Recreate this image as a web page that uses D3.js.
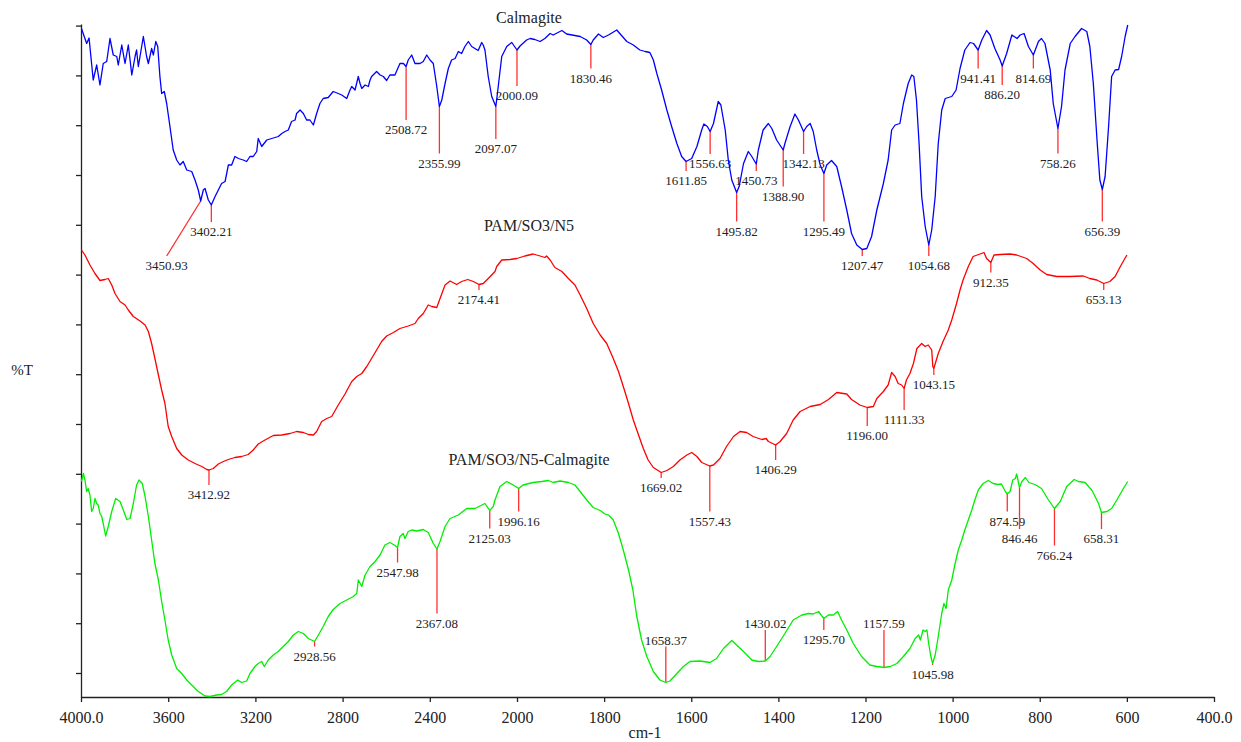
<!DOCTYPE html>
<html>
<head>
<meta charset="utf-8">
<script src="https://cdn.jsdelivr.net/npm/d3@7"></script>
<style>
  body { margin: 0; background: #fff; }
  svg text { font-family: "Liberation Serif", "Times New Roman", serif !important; fill: #222; }
</style>
</head>
<body>
<div id="chart"></div>
<script>
// spectra: [wavenumber cm-1, %T (stacked, arbitrary offset)]
const calmagite = [
  [3998,128.9],[3974,125.9],[3963,127],[3944,118.6],[3928,121.6],[3913,117.6],[3898,121.9],[3882,122.3],[3867,126.9],[3852,123.6],
  [3836,123.3],[3829,121.6],[3813,125.6],[3798,121.9],[3783,125.6],[3767,119.6],[3752,123.3],[3745,124.6],[3737,121.3],[3714,127.3],
  [3699,123.3],[3691,121.9],[3676,124.9],[3668,123.6],[3657,126.3],[3648,125.3],[3638,119.3],[3630,115.9],[3618,116.3],[3607,113.9],
  [3592,109.3],[3577,104.6],[3561,102.6],[3546,101.6],[3531,102.3],[3515,100.6],[3492,100.3],[3477,98.6],[3462,96.6],[3450.93,94.4],
  [3439,96.6],[3431,96.9],[3416,94.6],[3402.21,93.6],[3385,95.3],[3370,96.6],[3355,97.9],[3339,98.3],[3324,101.6],[3309,101.6],
  [3294,103.3],[3278,102.9],[3256,102.6],[3240,102.3],[3225,103.3],[3210,103.3],[3194,104.3],[3187,106.9],[3171,105.3],[3148,106.6],
  [3125,106.9],[3095,107.3],[3079,107.9],[3064,108.3],[3049,108.6],[3034,110.3],[3018,110.6],[3011,111.9],[2995,112.6],[2980,111.9],
  [2965,110.6],[2950,110.6],[2934,109.6],[2919,111.9],[2904,113.9],[2889,114.9],[2866,115.1],[2843,116.3],[2820,115.9],[2804,115.6],
  [2781,114.9],[2766,116.6],[2758,117.3],[2743,116.6],[2728,119.3],[2720,117.9],[2712,116.9],[2697,117.6],[2682,117.3],[2674,118.6],
  [2667,119.3],[2644,120.3],[2628,119.6],[2613,119.3],[2598,118.5],[2583,119.6],[2560,119.6],[2537,121.9],[2521,121.9],[2508.72,121.3],
  [2499,122.6],[2483,123.6],[2468,121.9],[2445,121.9],[2430,122.3],[2414,123.6],[2399,122.6],[2384,121.9],[2368,117.3],[2355.99,113.3],
  [2345,114.6],[2330,117.9],[2315,120.9],[2300,122.6],[2284,122.9],[2269,124.3],[2254,123.9],[2239,125.3],[2223,126.3],[2208,125.3],
  [2178,124.5],[2162,126.1],[2155,125.6],[2147,124.6],[2132,119.3],[2116,115.3],[2097.07,113.3],[2086,117.3],[2070,123.3],[2047,125.3],
  [2024,126.1],[2000.09,124.6],[1993,125.4],[1978,126.6],[1970,126.9],[1959,126.7],[1947,126.3],[1936,126.9],[1924,127.9],[1917,127.6],
  [1897,128.5],[1886,127.8],[1855,127.3],[1840,126.6],[1830.46,125.7],[1825,126.6],[1813,127.8],[1802,127.1],[1790,127.6],[1771,128.6],
  [1764,127.9],[1748,126.3],[1733,125.6],[1718,124.6],[1706,124.3],[1695,124.1],[1687,122.6],[1679,119.9],[1668,116.6],[1656,112.6],
  [1645,109.3],[1633,105.9],[1622,103.3],[1611.85,102.3],[1599,102.9],[1587,105.3],[1576,108.6],[1571,109.8],[1563,109.3],[1556.63,108.3],
  [1549,109.9],[1538,114.3],[1532,113.6],[1522,108.6],[1515,102.6],[1507,98.6],[1495.82,96.1],[1490,97.3],[1480,101.9],[1469,104.3],
  [1461,103.3],[1450.73,101.8],[1446,104.6],[1435,108.6],[1423,109.9],[1415,108.9],[1404,106.6],[1388.90,104.6],[1385,105.9],[1373,109.3],
  [1362,111.8],[1354,110.6],[1342.13,108.3],[1335,109.3],[1327,109.9],[1320,108.3],[1312,104.6],[1304,101.6],[1295.49,99.9],[1289,101.6],
  [1278,102.5],[1266,101.3],[1255,97.3],[1243,92.6],[1232,87.9],[1220,85.6],[1207.47,84.7],[1197,84.9],[1186,87.3],[1174,92.6],
  [1159,97.9],[1148,102.6],[1140,108.6],[1132,109.6],[1121,109.9],[1113,113.9],[1102,117.9],[1094,119.6],[1089,119.3],[1083,114.6],
  [1077,105.9],[1071,95.3],[1063,89.3],[1054.68,85.6],[1048,88.6],[1040,95.3],[1033,105.9],[1025,112.6],[1017,114.9],[1002,115.3],
  [992,116.6],[983,120.9],[972,124.6],[960,126.1],[952,125.9],[941.41,124.6],[933,126.6],[922,128.5],[914,127.6],[903,124.9],
  [891,122.6],[886.20,121.4],[876,123.9],[864,127.6],[852,126.9],[845,127.6],[836,127.9],[826,125.3],[814.69,123.6],[803,126.3],
  [796,126.9],[788,125.9],[776,120.6],[769,113.9],[758.26,108.9],[750,113.3],[742,120.6],[730,125.9],[719,127.3],[704,128.9],
  [692,128.3],[685,125.3],[677,117.9],[668,105.9],[662,98.6],[656.39,96.7],[650,99.3],[642,109.3],[635,119.3],[627,120.6],
  [619,120.7],[612,123.3],[604,127.3],[598,129.6]
];

const pamSo3N5 = [
  [3998,84.6],[3982,83.6],[3959,81.6],[3936,79.9],[3913,78.5],[3890,78.7],[3875,78.9],[3859,77.6],[3844,75.9],[3821,74.3],
  [3798,73.6],[3783,72.6],[3760,71.3],[3729,70.4],[3706,69.6],[3691,68.3],[3676,65.9],[3661,62.9],[3645,59.6],[3630,56.6],
  [3615,53.9],[3600,49.3],[3584,47.3],[3561,44.9],[3538,43.6],[3508,42.6],[3477,41.9],[3446,41.3],[3423,40.7],[3412.92,40.6],
  [3393,40.9],[3370,41.8],[3347,42.3],[3324,42.7],[3294,43.1],[3263,43.3],[3233,43.7],[3210,44.6],[3187,45.8],[3156,46.6],
  [3118,47.5],[3079,47.6],[3041,47.9],[3011,48.3],[2980,48.1],[2957,47.7],[2934,47.6],[2919,48.3],[2896,50.3],[2873,50.9],
  [2850,51.3],[2820,53.6],[2789,55.8],[2758,58.3],[2735,59.3],[2712,59.9],[2689,61.3],[2667,62.9],[2644,64.6],[2621,66.3],
  [2598,67.4],[2567,68.1],[2537,68.9],[2499,69.4],[2468,69.9],[2453,70.9],[2430,71.9],[2407,73.6],[2391,73.3],[2368,73.1],
  [2353,74.9],[2330,77.6],[2307,78.4],[2277,77.7],[2254,78.3],[2226,78.7],[2200,78.3],[2174.41,77.7],[2155,77.9],[2132,78.9],
  [2101,80.3],[2093,81.3],[2070,82.6],[2032,82.7],[2001,82.9],[1982,83.4],[1963,83.8],[1947,83.4],[1936,83.1],[1932,83.4],
  [1924,82.6],[1913,81.1],[1897,80.3],[1882,78.9],[1867,77.6],[1855,75.6],[1840,72.9],[1825,69.9],[1809,67.6],[1794,65.9],
  [1779,62.9],[1767,60.3],[1756,57.3],[1744,53.9],[1733,50.6],[1721,47.6],[1710,44.9],[1699,42.6],[1687,41.1],[1669.02,40.1],
  [1656,40.5],[1641,41.3],[1626,42.6],[1610,43.6],[1599,44.1],[1587,43.3],[1576,42.1],[1557.43,41.4],[1549,41.6],[1534,42.9],
  [1519,45.3],[1503,47.3],[1488,48.3],[1473,48.1],[1458,47.3],[1438,46.7],[1428,46.9],[1423,46.3],[1406.29,45.6],[1396,46.3],
  [1381,47.9],[1366,50.6],[1350,52.3],[1327,53.3],[1304,53.7],[1285,54.7],[1266,56.1],[1243,55.8],[1232,54.7],[1213,53.6],
  [1196.00,53.1],[1182,53.3],[1174,54.9],[1159,56.3],[1148,57.6],[1140,60.1],[1132,59.3],[1125,57.9],[1117,57.6],[1111.33,56.9],
  [1106,58.6],[1098,59.9],[1090,61.9],[1082,64.9],[1071,65.9],[1063,65.3],[1056,65.6],[1048,64.6],[1045.5,61.3],[1043.15,60.9],
  [1033,63.9],[1022,66.3],[1010,68.6],[1002,70.6],[991,73.9],[983,76.6],[976,78.6],[964,81.3],[953,83.3],[937,83.8],
  [928,84.1],[922,82.9],[912.35,82.1],[905,83.6],[891,83.7],[868,83.8],[853,83.6],[830,82.9],[815,81.9],[799,80.6],
  [784,79.7],[761,79.3],[731,79.3],[700,79.4],[685,78.9],[669,78.6],[653.13,77.9],[639,78.3],[627,79.3],[615,81.3],
  [600,83.6]
];

const pamSo3N5Calmagite = [
  [3998,38.3],[3989,39.9],[3982,38.6],[3974,36.3],[3967,36.9],[3959,35.6],[3951,32.3],[3944,32.9],[3936,34.9],[3928,33.9],
  [3921,33.6],[3913,31.9],[3905,31.3],[3898,29.9],[3887,27.4],[3875,29.3],[3859,32.3],[3841,34.9],[3821,34.3],[3806,32.6],
  [3790,30.7],[3775,30.9],[3760,33.9],[3745,37.6],[3734,38.6],[3719,37.9],[3706,35.3],[3691,31.3],[3676,26.6],[3661,21.9],
  [3645,18.6],[3630,14.3],[3615,10.6],[3600,6.6],[3584,3.6],[3561,0.9],[3538,-0.1],[3515,-1.4],[3492,-2.4],[3462,-3.7],
  [3431,-4.6],[3408,-4.7],[3378,-4.4],[3355,-4.3],[3332,-3.7],[3309,-2.4],[3281,-1.4],[3263,-1.9],[3240,-1.6],[3225,-0.1],
  [3202,1.3],[3187,1.9],[3171,2.3],[3159,1.3],[3141,2.6],[3118,3.6],[3095,4.3],[3072,5.3],[3049,6.3],[3026,7.6],
  [3003,8.3],[2980,7.9],[2957,6.9],[2928.56,6.3],[2911,7.6],[2889,9.3],[2866,11.3],[2843,12.7],[2812,13.9],[2781,14.6],
  [2751,15.3],[2735,15.9],[2728,18.6],[2712,17.3],[2697,19.6],[2674,21.3],[2651,22.3],[2628,23.6],[2606,25.6],[2583,26.1],
  [2563,25.6],[2547.98,25.1],[2537,27.3],[2522,27.9],[2514,26.9],[2499,28.3],[2483,28.6],[2460,28.4],[2430,28.7],[2407,28.1],
  [2384,25.9],[2367.08,24.8],[2353,26.3],[2330,29.3],[2307,30.9],[2269,31.6],[2231,32.9],[2193,32.9],[2147,33.9],[2125.03,32.5],
  [2109,33.3],[2101,34.6],[2078,37.3],[2047,38.3],[2017,37.6],[1996.16,36.9],[1986,37.6],[1963,38.1],[1943,38.3],[1928,38.5],
  [1917,38.1],[1901,38.4],[1882,38.1],[1867,37.6],[1855,36.3],[1840,34.6],[1825,33.1],[1809,32.5],[1798,31.8],[1790,31.6],
  [1779,30.6],[1767,27.9],[1756,24.6],[1744,20.6],[1734,16.6],[1725,11.3],[1714,6.6],[1702,3.3],[1687,0.3],[1672,-1.4],
  [1658.37,-1.9],[1649,-1.6],[1633,-0.1],[1618,1.3],[1603,2.3],[1580,2.4],[1557,2.1],[1542,2.9],[1526,4.9],[1507,6.5],
  [1496,5.6],[1480,4.3],[1461,2.6],[1446,2.3],[1430.02,2.4],[1419,3.3],[1404,5.3],[1385,7.9],[1366,10.6],[1346,11.6],
  [1331,11.9],[1320,11.8],[1308,12.3],[1295.70,10.9],[1285,11.6],[1274,11.6],[1264,12.3],[1255,10.6],[1243,8.6],[1228,5.9],
  [1209,3.3],[1190,1.6],[1174,1.3],[1157.59,1.1],[1143,1.3],[1128,1.9],[1113,3.3],[1098,4.9],[1086,6.9],[1078,7.6],
  [1074,6.6],[1068,8.6],[1063,8.3],[1059,8.6],[1055,5.9],[1050,3.3],[1045.98,1.9],[1040,3.6],[1033,7.3],[1025,11.9],
  [1020,13.9],[1015,12.9],[1010,16.6],[1002,18.6],[995,21.6],[987,24.6],[979,26.6],[972,28.6],[964,30.6],[956,32.6],
  [949,34.6],[941,36.6],[930,37.9],[918,38.5],[907,37.9],[896,37.7],[888,37.8],[879,36.3],[874.59,35.8],[868,36.3],
  [862,38.6],[856,38.9],[853,39.8],[846.46,37.1],[841,38.3],[833,39.1],[825,38.1],[811,37.7],[796,36.9],[780,34.6],
  [766.24,32.9],[753,34.3],[738,37.3],[721,38.7],[711,38.3],[696,38.1],[680,36.5],[665,33.9],[658.31,32.1],[646,32.3],
  [635,32.9],[623,34.6],[608,36.9],[598,38.3]
];

// peak marks: [wavenumber, %T where the leader stops, label wavenumber if the leader is slanted]
const calmagitePeaks = [
  [3450.93,83.4,3607],[3402.21,90.2],[2508.72,110.6],[2355.99,103.9],[2097.07,106.8],[2000.09,117.4],[1830.46,120.9],
  [1611.85,100.4],[1556.63,103.8],[1495.82,90.3],[1450.73,100.4],[1388.90,97.3],[1342.13,103.8],[1295.49,90.3],
  [1207.47,83.4],[1054.68,83.4],[941.41,120.9],[886.20,117.6],[814.69,120.9],[758.26,103.9],[656.39,90.3]
];
const pamSo3N5Peaks = [
  [3412.92,37.6],[2174.41,76.6],[1669.02,39],[1557.43,32.3],[1406.29,42.6],[1196.00,49.4],[1111.33,52.6],
  [1043.15,59.6],[912.35,80.1],[653.13,76.6]
];
const pamSo3N5CalmagitePeaks = [
  [2928.56,5.3],[2547.98,22.1],[2367.08,11.9],[2125.03,28.9],[1996.16,32.3],[1658.37,5.3],[1430.02,8.6],
  [1295.70,8.6],[1157.59,8.6],[1045.98,1.6],[874.59,32.3],[846.46,28.8],[766.24,25.5],[658.31,28.8]
];

const seriesNames = ["Calmagite", "PAM/SO3/N5", "PAM/SO3/N5-Calmagite"];
const xTicks = [4000, 3600, 3200, 2800, 2400, 2000, 1800, 1600, 1400, 1200, 1000, 800, 600, 400];
const yTicks = d3.range(0, 130, 9.96);

const FONT = '"Liberation Serif", "Times New Roman", serif';

// Dimensions
const margin = { top: 24, right: 27, bottom: 45, left: 81 },
      width = 1241 - margin.left - margin.right,
      height = 742 - margin.top - margin.bottom;

const svg = d3.select("#chart")
  .append("svg")
    .attr("width", width + margin.left + margin.right)
    .attr("height", height + margin.top + margin.bottom)
    .style("font-family", FONT)
  .append("g")
    .attr("transform", `translate(${margin.left},${margin.top})`);

// x axis changes scale at 2000 cm-1 (as on the instrument printout)
const x = d3.scaleLinear()
  .domain([4000, 2000, 400])
  .range([0, width * 436 / 1133, width]);

const y = d3.scaleLinear()
  .domain([-4.8, 129.8])
  .range([height, 0]);

// Axes
const xAxis = svg.append("g")
  .attr("transform", `translate(0,${height})`)
  .call(d3.axisBottom(x)
    .tickValues(xTicks)
    .tickFormat(d => (d === 4000 || d === 400) ? d.toFixed(1) : d)
    .tickSize(5)
    .tickSizeOuter(0)
    .tickPadding(10));
xAxis.attr("font-family", FONT);
xAxis.selectAll("text").style("font-size", "16px").style("font-family", FONT);

const yAxis = svg.append("g")
  .call(d3.axisLeft(y).tickValues(yTicks).tickFormat("").tickSize(5).tickSizeOuter(0));

svg.selectAll(".domain, .tick line").attr("stroke", "#222").attr("stroke-width", 1.3);

svg.append("text")
  .attr("x", -59)
  .attr("y", 351)
  .attr("text-anchor", "middle")
  .style("font-family", FONT)
  .style("font-size", "15px")
  .text("%T");

svg.append("text")
  .attr("x", 564)
  .attr("y", 714)
  .attr("text-anchor", "middle")
  .style("font-family", FONT)
  .style("font-size", "16px")
  .text("cm-1");

// Spectra
const line = d3.line()
  .x(d => x(d[0]))
  .y(d => y(d[1]));

const spectra = [
  { data: calmagite, peaks: calmagitePeaks, color: "#0000ff", title: seriesNames[0], ty: -1 },
  { data: pamSo3N5, peaks: pamSo3N5Peaks, color: "#ff0000", title: seriesNames[1], ty: 207 },
  { data: pamSo3N5Calmagite, peaks: pamSo3N5CalmagitePeaks, color: "#00ee00", title: seriesNames[2], ty: 441 }
];

// linear lookup of %T at a wavenumber
function valueAt(series, w) {
  for (let i = 0; i < series.length - 1; i++) {
    const a = series[i], b = series[i + 1];
    if (w <= a[0] && w >= b[0]) {
      const t = (a[0] - w) / (a[0] - b[0]);
      return a[1] + t * (b[1] - a[1]);
    }
  }
  return series[series.length - 1][1];
}

spectra.forEach(s => {
  svg.append("text")
    .attr("x", 448)
    .attr("y", s.ty)
    .attr("text-anchor", "middle")
    .style("font-family", FONT)
    .style("font-size", "16px")
    .text(s.title);

  const marks = svg.append("g");
  s.peaks.forEach(p => {
    const w = p[0], end = p[1], lw = p[2] !== undefined ? p[2] : p[0];
    const v = valueAt(s.data, w);
    const up = end > v;
    marks.append("line")
      .attr("x1", x(w)).attr("y1", y(v))
      .attr("x2", x(lw)).attr("y2", y(end))
      .attr("stroke", "#ff3030")
      .attr("stroke-width", 1.3);
    marks.append("text")
      .attr("x", x(lw))
      .attr("y", up ? y(end) - 2 : y(end) + 14)
      .attr("text-anchor", "middle")
      .style("font-family", FONT)
      .style("font-size", "13px")
      .text(w.toFixed(2));
  });

  svg.append("path")
    .datum(s.data)
    .attr("fill", "none")
    .attr("stroke", s.color)
    .attr("stroke-width", 1.3)
    .attr("stroke-linejoin", "round")
    .attr("d", line);
});
</script>
</body>
</html>
